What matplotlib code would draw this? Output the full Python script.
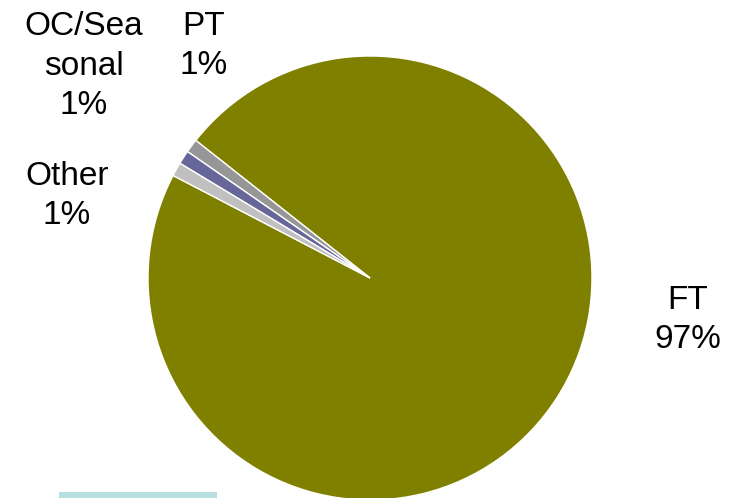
import matplotlib
matplotlib.use("Agg")
import matplotlib.pyplot as plt
from matplotlib.patches import Rectangle

# Workforce split by contract type
labels = ["FT", "PT", "OC/Sea\nsonal", "Other"]
shares = [97, 1, 1, 1]
colors = ["#808000", "#969696", "#666699", "#C0C0C0"]
explode = [0, 0.06, 0.06, 0.06]

plt.rcParams["font.family"] = ["Liberation Sans", "DejaVu Sans"]

fig = plt.figure(figsize=(7.41, 4.98), dpi=100)
ax = fig.add_axes([0, 0, 1, 1])

# pie drawn in pixel-like data units so placement is easy
cx, cy, r = 370, 220, 222
ax.pie(shares, colors=colors, explode=explode, startangle=152.5,
       counterclock=True, center=(cx, cy), radius=r,
       wedgeprops=dict(edgecolor="white", linewidth=1))
ax.set_xlim(0, 741)
ax.set_ylim(0, 498)
ax.set_aspect("equal")
ax.axis("off")

# slice labels
label_pos = {"FT": (688, 178), "PT": (204, 452),
             "OC/Sea\nsonal": (84, 432), "Other": (67, 302)}
for lab, val in zip(labels, shares):
    x, y = label_pos[lab]
    ax.text(x, y, f"{lab}\n{val}%", ha="center", va="center",
            fontsize=24, linespacing=1.35, color="black")

# light strip at the bottom left
fig.patches.append(Rectangle((59 / 741, 0), 158 / 741, 6 / 498,
                             transform=fig.transFigure,
                             facecolor="#B8E0E0", edgecolor="none"))

fig.savefig("out.png", dpi=100)
